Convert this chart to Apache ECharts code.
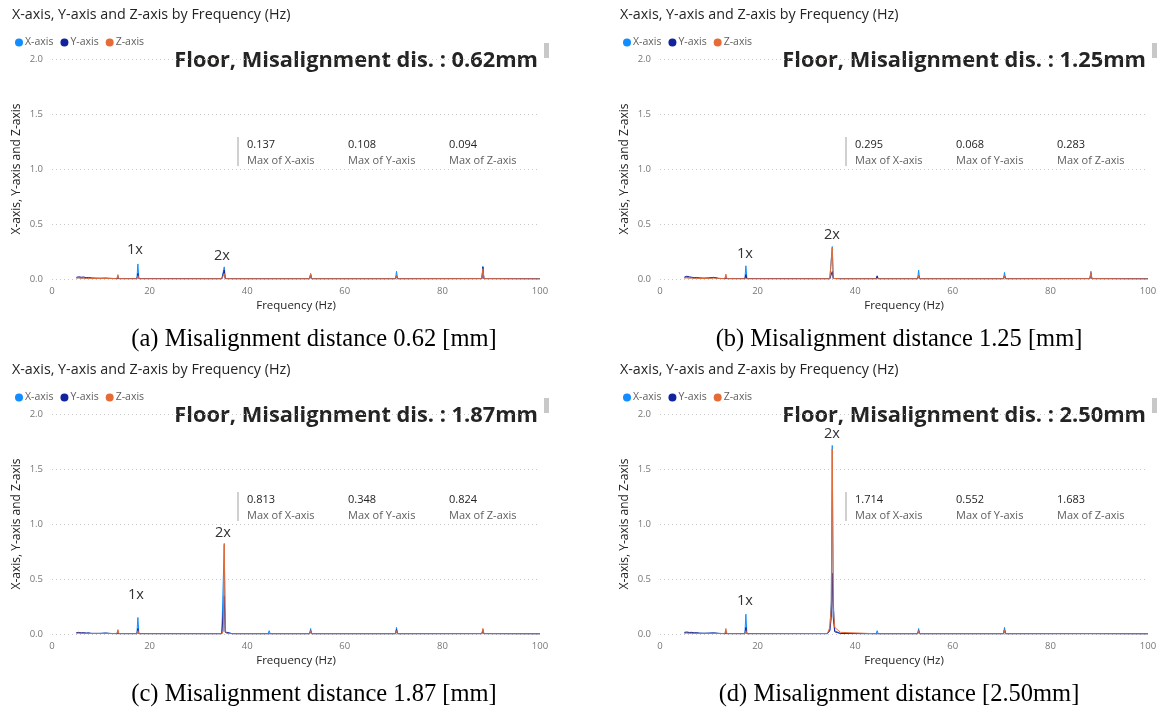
<!DOCTYPE html>
<html>
<head>
<meta charset="utf-8">
<script src="https://cdn.jsdelivr.net/npm/echarts@6/dist/echarts.min.js"></script>
<style>
  html, body { margin: 0; background: #fff; }
  #main { width: 1162px; height: 711px; }
</style>
</head>
<body>
<div id="main"></div>
<script>
// frequency points (Hz) shared by all spectra
const freqs = [5, 5.5, 6, 6.5, 7, 7.5, 8, 9, 10, 11, 12, 13.3, 13.5, 13.7, 17.4, 17.6, 17.8, 34.3,
  34.8, 35.1, 35.3, 35.5, 35.8, 37, 44.3, 44.5, 44.7, 52.8, 53, 53.2, 70.4, 70.6, 70.8, 88.1, 88.3, 88.5, 100]

// (a) 0.62 mm
const xA = [0.010, 0.012, 0.008, 0.010, 0.006, 0.008, 0.005, 0.004, 0.005, 0.006, 0.004, 0.003, 0.030, 0.003, 0.003, 0.137, 0.003, 0.002,
  0.002, 0.004, 0.110, 0.004, 0.002, 0.002, 0.002, 0.015, 0.002, 0.002, 0.050, 0.002, 0.002, 0.070, 0.002, 0.003, 0.115, 0.003, 0.001]
const yA = [0.015, 0.020, 0.016, 0.018, 0.012, 0.014, 0.010, 0.008, 0.007, 0.008, 0.006, 0.003, 0.020, 0.003, 0.003, 0.050, 0.003, 0.002,
  0.002, 0.003, 0.080, 0.003, 0.002, 0.002, 0.002, 0.010, 0.002, 0.002, 0.040, 0.002, 0.002, 0.030, 0.002, 0.003, 0.108, 0.003, 0.001]
const zA = [0.008, 0.010, 0.006, 0.008, 0.005, 0.006, 0.004, 0.004, 0.004, 0.005, 0.004, 0.003, 0.040, 0.003, 0.002, 0.030, 0.002, 0.002,
  0.002, 0.003, 0.050, 0.003, 0.002, 0.002, 0.002, 0.008, 0.002, 0.002, 0.045, 0.002, 0.002, 0.030, 0.002, 0.003, 0.094, 0.003, 0.001]

// (b) 1.25 mm
const xB = [0.012, 0.015, 0.010, 0.012, 0.008, 0.009, 0.006, 0.005, 0.006, 0.012, 0.005, 0.003, 0.030, 0.003, 0.003, 0.120, 0.003, 0.002,
  0.002, 0.005, 0.295, 0.005, 0.002, 0.002, 0.002, 0.030, 0.002, 0.002, 0.080, 0.002, 0.002, 0.060, 0.002, 0.003, 0.070, 0.003, 0.001]
const yB = [0.018, 0.025, 0.020, 0.016, 0.012, 0.014, 0.010, 0.008, 0.010, 0.015, 0.006, 0.003, 0.020, 0.003, 0.003, 0.040, 0.003, 0.002,
  0.002, 0.004, 0.068, 0.004, 0.002, 0.002, 0.002, 0.025, 0.002, 0.002, 0.030, 0.002, 0.002, 0.030, 0.002, 0.003, 0.050, 0.003, 0.001]
const zB = [0.008, 0.010, 0.008, 0.008, 0.006, 0.006, 0.005, 0.004, 0.005, 0.008, 0.004, 0.003, 0.045, 0.003, 0.002, 0.020, 0.002, 0.002,
  0.002, 0.005, 0.283, 0.005, 0.002, 0.002, 0.002, 0.020, 0.002, 0.002, 0.030, 0.002, 0.002, 0.030, 0.002, 0.003, 0.060, 0.003, 0.001]

// (c) 1.87 mm
const xC = [0.010, 0.012, 0.008, 0.010, 0.006, 0.008, 0.005, 0.004, 0.005, 0.008, 0.004, 0.003, 0.030, 0.003, 0.003, 0.150, 0.003, 0.002,
  0.003, 0.020, 0.813, 0.020, 0.003, 0.002, 0.002, 0.030, 0.002, 0.002, 0.050, 0.002, 0.002, 0.060, 0.002, 0.003, 0.030, 0.003, 0.001]
const yC = [0.012, 0.015, 0.010, 0.012, 0.008, 0.010, 0.006, 0.006, 0.006, 0.008, 0.005, 0.003, 0.020, 0.003, 0.003, 0.050, 0.003, 0.002,
  0.003, 0.015, 0.348, 0.015, 0.003, 0.002, 0.002, 0.020, 0.002, 0.002, 0.030, 0.002, 0.002, 0.040, 0.002, 0.003, 0.040, 0.003, 0.001]
const zC = [0.006, 0.008, 0.006, 0.006, 0.005, 0.005, 0.004, 0.004, 0.004, 0.005, 0.004, 0.003, 0.040, 0.003, 0.002, 0.030, 0.002, 0.002,
  0.003, 0.025, 0.824, 0.025, 0.004, 0.002, 0.002, 0.015, 0.002, 0.002, 0.030, 0.002, 0.002, 0.030, 0.002, 0.003, 0.050, 0.003, 0.001]

// (d) 2.50 mm
const xD = [0.012, 0.014, 0.010, 0.012, 0.008, 0.009, 0.006, 0.005, 0.006, 0.008, 0.005, 0.003, 0.030, 0.003, 0.003, 0.180, 0.003, 0.003,
  0.040, 0.300, 1.714, 0.300, 0.030, 0.005, 0.002, 0.030, 0.002, 0.002, 0.050, 0.002, 0.002, 0.060, 0.002, 0.003, 0.020, 0.003, 0.001]
const yD = [0.015, 0.018, 0.014, 0.015, 0.010, 0.012, 0.008, 0.007, 0.008, 0.010, 0.006, 0.003, 0.020, 0.003, 0.003, 0.060, 0.003, 0.003,
  0.030, 0.150, 0.552, 0.150, 0.020, 0.004, 0.002, 0.020, 0.002, 0.002, 0.030, 0.002, 0.002, 0.040, 0.002, 0.003, 0.020, 0.003, 0.001]
const zD = [0.006, 0.008, 0.006, 0.006, 0.005, 0.005, 0.004, 0.004, 0.004, 0.005, 0.004, 0.003, 0.050, 0.003, 0.002, 0.030, 0.002, 0.004,
  0.060, 0.250, 1.683, 0.250, 0.060, 0.015, 0.002, 0.015, 0.002, 0.002, 0.030, 0.002, 0.002, 0.040, 0.002, 0.003, 0.015, 0.003, 0.001]

const maxA = ['0.137', '0.108', '0.094']
const maxB = ['0.295', '0.068', '0.283']
const maxC = ['0.813', '0.348', '0.824']
const maxD = ['1.714', '0.552', '1.683']

const seriesNames = ['X-axis', 'Y-axis', 'Z-axis']
const distances = ['0.62mm', '1.25mm', '1.87mm', '2.50mm']
const captions = [
  '(a) Misalignment distance 0.62 [mm]',
  '(b) Misalignment distance 1.25 [mm]',
  '(c) Misalignment distance 1.87 [mm]',
  '(d) Misalignment distance [2.50mm]'
]

const COLORS = ['#118DFF', '#12239E', '#E66C37']
const FONT = '"Open Sans", "Noto Sans", sans-serif'
const TEXT_DARK = '#252423'
const TEXT_GRAY = '#605E5C'

// panel origins and text anchors (pixels)
const panels = [
  { ox: 0, oy: 0, cap: 314, data: [xA, yA, zA], max: maxA, ann: [[135, 250, '1x'], [222, 256, '2x']] },
  { ox: 608, oy: 0, cap: 899, data: [xB, yB, zB], max: maxB, ann: [[745, 254, '1x'], [832, 235, '2x']] },
  { ox: 0, oy: 355, cap: 314, data: [xC, yC, zC], max: maxC, ann: [[136, 595, '1x'], [223, 533, '2x']] },
  { ox: 608, oy: 355, cap: 899, data: [xD, yD, zD], max: maxD, ann: [[745, 601, '1x'], [832, 434, '2x']] }
]

const grid = [], xAxis = [], yAxis = [], series = [], legend = [], graphic = []

panels.forEach((p, i) => {
  grid.push({ left: p.ox + 52, top: p.oy + 59, width: 488, height: 220 })
  xAxis.push({
    gridIndex: i, type: 'value', min: 0, max: 100, interval: 20,
    name: 'Frequency (Hz)', nameLocation: 'middle', nameGap: 21,
    nameTextStyle: { color: TEXT_DARK, fontFamily: FONT, fontSize: 11.5 },
    axisLine: { show: false }, axisTick: { show: false }, splitLine: { show: false },
    axisLabel: { color: '#777', fontFamily: FONT, fontSize: 9.5, margin: 7 }
  })
  yAxis.push({
    gridIndex: i, type: 'value', min: 0, max: 2, interval: 0.5,
    name: 'X-axis, Y-axis and Z-axis', nameLocation: 'middle', nameGap: 29, nameRotate: 90,
    nameTextStyle: { color: TEXT_DARK, fontFamily: FONT, fontSize: 12 },
    axisLine: { show: false }, axisTick: { show: false },
    axisLabel: { color: '#777', fontFamily: FONT, fontSize: 9.5, margin: 9, formatter: v => v.toFixed(1) },
    splitLine: { lineStyle: { color: '#C8C8C8', type: [1, 3], width: 1 } }
  })
  p.data.forEach((vals, k) => {
    series.push({
      name: seriesNames[k], type: 'line', xAxisIndex: i, yAxisIndex: i,
      showSymbol: false, animation: false,
      lineStyle: { width: 1, color: COLORS[k] }, itemStyle: { color: COLORS[k] },
      data: freqs.map((f, j) => [f, vals[j]])
    })
  })
  legend.push({
    left: p.ox + 10, top: p.oy + 32, icon: 'circle', itemWidth: 8, itemHeight: 8, itemGap: 7,
    data: seriesNames, textStyle: { color: TEXT_GRAY, fontFamily: FONT, fontSize: 10.5, padding: [0, 0, 0, -3] }
  })

  // chart title
  graphic.push({ type: 'text', left: p.ox + 12, top: p.oy + 8,
    style: { text: 'X-axis, Y-axis and Z-axis by Frequency (Hz)', fill: TEXT_DARK, font: '14.3px ' + FONT } })
  // overlay heading
  graphic.push({ type: 'text', x: p.ox + 538, y: p.oy + 61,
    style: { text: 'Floor, Misalignment dis. : ' + distances[i], fill: TEXT_DARK, font: 'bold 21.8px ' + FONT,
      align: 'right', verticalAlign: 'middle' } })
  // scrollbar stub
  graphic.push({ type: 'rect', shape: { x: p.ox + 544, y: p.oy + 43, width: 5, height: 15 }, style: { fill: '#C8C8C8' } })
  // card with maxima
  graphic.push({ type: 'rect', shape: { x: p.ox + 237, y: p.oy + 137, width: 2, height: 29 }, style: { fill: '#D0D0D0' } })
  p.max.forEach((m, k) => {
    const x = p.ox + 247 + k * 101
    graphic.push({ type: 'text', x: x, y: p.oy + 145,
      style: { text: m, fill: TEXT_DARK, font: '11px ' + FONT, verticalAlign: 'middle' } })
    graphic.push({ type: 'text', x: x, y: p.oy + 161,
      style: { text: 'Max of ' + seriesNames[k], fill: TEXT_GRAY, font: '11px ' + FONT, verticalAlign: 'middle' } })
  })
  // harmonic annotations
  p.ann.forEach(a => {
    graphic.push({ type: 'text', x: a[0], y: a[1],
      style: { text: a[2], fill: '#333', font: '14.5px ' + FONT, align: 'center', verticalAlign: 'middle' } })
  })
  // figure caption
  graphic.push({ type: 'text', x: p.cap, y: p.oy + 340,
    style: { text: captions[i], fill: '#000', font: '24.5px "Liberation Serif", "Times New Roman", serif',
      align: 'center', verticalAlign: 'middle' } })
})

const myChart = echarts.init(document.getElementById('main'))
myChart.setOption({
  animation: false,
  color: COLORS,
  grid: grid,
  xAxis: xAxis,
  yAxis: yAxis,
  legend: legend,
  series: series,
  graphic: graphic
})
</script>
</body>
</html>
